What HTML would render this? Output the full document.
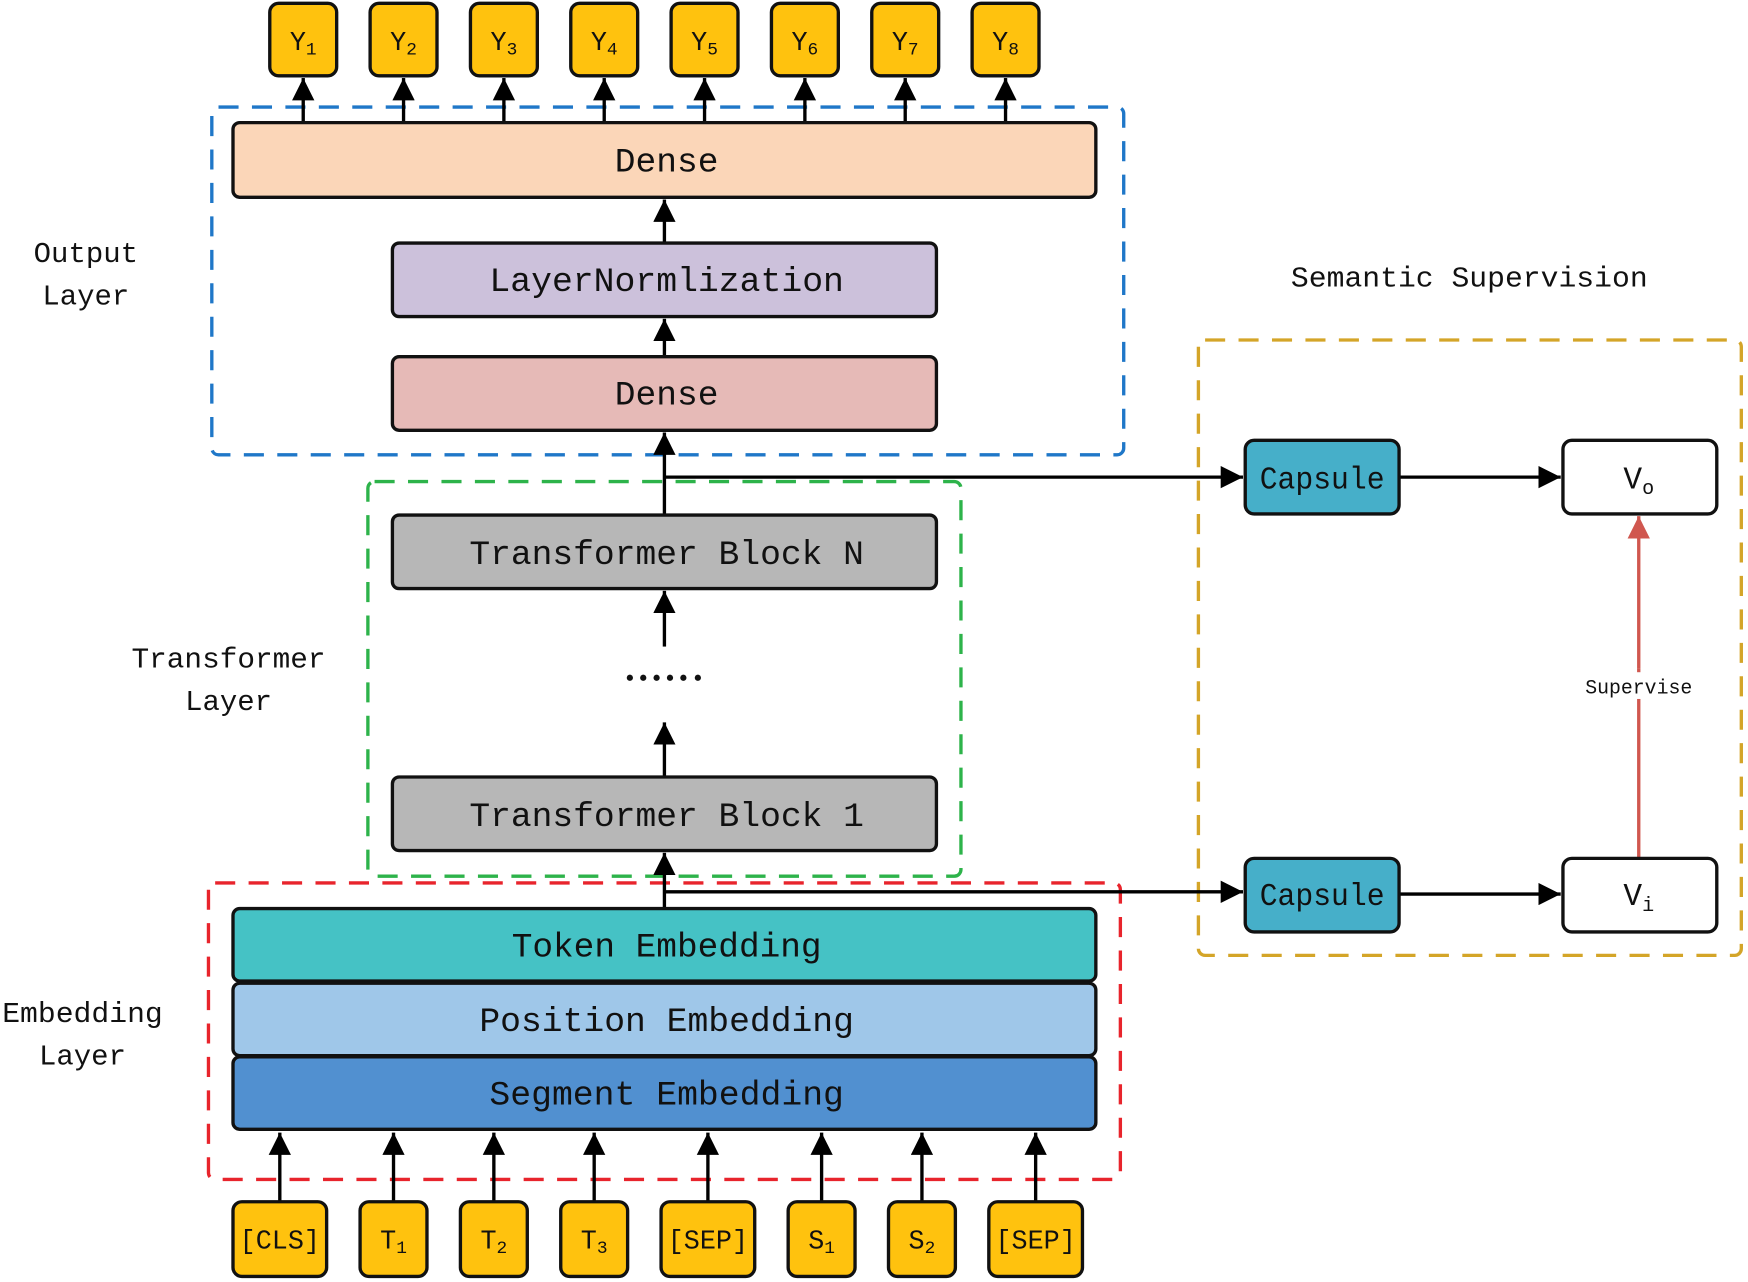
<!DOCTYPE html>
<html><head><meta charset="utf-8"><style>
html,body{margin:0;padding:0;background:#fff;}
svg{display:block;}
text{font-family:"Liberation Mono","Liberation Serif",monospace;fill:#111;}
</style></head><body>
<svg width="1748" height="1282" viewBox="0 0 1568 1150" preserveAspectRatio="none" xmlns="http://www.w3.org/2000/svg">
<defs>
<marker id="ab" viewBox="0 0 10 10" refX="10" refY="5" markerWidth="20" markerHeight="20" orient="auto" markerUnits="userSpaceOnUse"><path d="M0,0L10,5L0,10z" fill="#000"/></marker>
<marker id="ar" viewBox="0 0 10 10" refX="10" refY="5" markerWidth="20" markerHeight="20" orient="auto" markerUnits="userSpaceOnUse"><path d="M0,0L10,5L0,10z" fill="#d0574f"/></marker>
</defs>
<g fill="none" stroke-width="3" stroke-dasharray="18,12">
<rect x="190" y="96" width="818" height="312" rx="6" stroke="#1f77c8"/>
<rect x="330" y="432" width="532" height="354" rx="6" stroke="#2db34a"/>
<rect x="187" y="792" width="818" height="266" rx="6" stroke="#e8242c"/>
<rect x="1075" y="305" width="487" height="552" rx="6" stroke="#d4a528"/>
</g>
<g stroke="#000" stroke-width="3">
<line x1="272" y1="110" x2="272" y2="70" marker-end="url(#ab)"/>
<line x1="362" y1="110" x2="362" y2="70" marker-end="url(#ab)"/>
<line x1="452" y1="110" x2="452" y2="70" marker-end="url(#ab)"/>
<line x1="542" y1="110" x2="542" y2="70" marker-end="url(#ab)"/>
<line x1="632" y1="110" x2="632" y2="70" marker-end="url(#ab)"/>
<line x1="722" y1="110" x2="722" y2="70" marker-end="url(#ab)"/>
<line x1="812" y1="110" x2="812" y2="70" marker-end="url(#ab)"/>
<line x1="902" y1="110" x2="902" y2="70" marker-end="url(#ab)"/>
<line x1="596" y1="218" x2="596" y2="179" marker-end="url(#ab)"/>
<line x1="596" y1="320" x2="596" y2="286" marker-end="url(#ab)"/>
<line x1="596" y1="462" x2="596" y2="388" marker-end="url(#ab)"/>
<line x1="596" y1="580" x2="596" y2="530" marker-end="url(#ab)"/>
<line x1="596" y1="697" x2="596" y2="648" marker-end="url(#ab)"/>
<line x1="596" y1="815" x2="596" y2="765" marker-end="url(#ab)"/>
<line x1="596" y1="428" x2="1115" y2="428" marker-end="url(#ab)"/>
<line x1="596" y1="800" x2="1115" y2="800" marker-end="url(#ab)"/>
<line x1="1255" y1="428" x2="1400" y2="428" marker-end="url(#ab)"/>
<line x1="1255" y1="802" x2="1400" y2="802" marker-end="url(#ab)"/>
<line x1="251" y1="1078" x2="251" y2="1016" marker-end="url(#ab)"/>
<line x1="353" y1="1078" x2="353" y2="1016" marker-end="url(#ab)"/>
<line x1="443" y1="1078" x2="443" y2="1016" marker-end="url(#ab)"/>
<line x1="533" y1="1078" x2="533" y2="1016" marker-end="url(#ab)"/>
<line x1="635" y1="1078" x2="635" y2="1016" marker-end="url(#ab)"/>
<line x1="737" y1="1078" x2="737" y2="1016" marker-end="url(#ab)"/>
<line x1="827" y1="1078" x2="827" y2="1016" marker-end="url(#ab)"/>
<line x1="929" y1="1078" x2="929" y2="1016" marker-end="url(#ab)"/>
</g>
<line x1="1470" y1="600" x2="1470" y2="770" stroke="#d0574f" stroke-width="3"/>
<line x1="1470" y1="600" x2="1470" y2="463" stroke="#d0574f" stroke-width="3" marker-end="url(#ar)"/>
<g stroke="#111" stroke-width="3">
<g fill="#FFC20E">
<rect x="242" y="3" width="60" height="65" rx="8"/><rect x="332" y="3" width="60" height="65" rx="8"/>
<rect x="422" y="3" width="60" height="65" rx="8"/><rect x="512" y="3" width="60" height="65" rx="8"/>
<rect x="602" y="3" width="60" height="65" rx="8"/><rect x="692" y="3" width="60" height="65" rx="8"/>
<rect x="782" y="3" width="60" height="65" rx="8"/><rect x="872" y="3" width="60" height="65" rx="8"/>
<rect x="209" y="1078" width="84" height="67" rx="8"/><rect x="323" y="1078" width="60" height="67" rx="8"/>
<rect x="413" y="1078" width="60" height="67" rx="8"/><rect x="503" y="1078" width="60" height="67" rx="8"/>
<rect x="593" y="1078" width="84" height="67" rx="8"/><rect x="707" y="1078" width="60" height="67" rx="8"/>
<rect x="797" y="1078" width="60" height="67" rx="8"/><rect x="887" y="1078" width="84" height="67" rx="8"/>
</g>
<rect x="209" y="110" width="774" height="67" rx="6" fill="#FBD6B8"/>
<rect x="352" y="218" width="488" height="66" rx="6" fill="#CCC1DB"/>
<rect x="352" y="320" width="488" height="66" rx="6" fill="#E6BAB7"/>
<rect x="352" y="462" width="488" height="66" rx="6" fill="#B7B7B7"/>
<rect x="352" y="697" width="488" height="66" rx="6" fill="#B7B7B7"/>
<rect x="209" y="815" width="774" height="65" rx="6" fill="#45C2C5"/>
<rect x="209" y="882" width="774" height="65" rx="6" fill="#9FC7E9"/>
<rect x="209" y="948" width="774" height="65" rx="6" fill="#5190D0"/>
<rect x="1117" y="395" width="138" height="66" rx="8" fill="#46AFC9"/>
<rect x="1117" y="770" width="138" height="66" rx="8" fill="#46AFC9"/>
<rect x="1402" y="395" width="138" height="66" rx="8" fill="#fff"/>
<rect x="1402" y="770" width="138" height="66" rx="8" fill="#fff"/>
</g>
<g font-size="24" text-anchor="middle">
<text x="272" y="45">Y<tspan font-size="16" dy="4">1</tspan></text><text x="362" y="45">Y<tspan font-size="16" dy="4">2</tspan></text>
<text x="452" y="45">Y<tspan font-size="16" dy="4">3</tspan></text><text x="542" y="45">Y<tspan font-size="16" dy="4">4</tspan></text>
<text x="632" y="45">Y<tspan font-size="16" dy="4">5</tspan></text><text x="722" y="45">Y<tspan font-size="16" dy="4">6</tspan></text>
<text x="812" y="45">Y<tspan font-size="16" dy="4">7</tspan></text><text x="902" y="45">Y<tspan font-size="16" dy="4">8</tspan></text>
<text x="251" y="1120">[CLS]</text><text x="353" y="1120">T<tspan font-size="16" dy="4">1</tspan></text>
<text x="443" y="1120">T<tspan font-size="16" dy="4">2</tspan></text><text x="533" y="1120">T<tspan font-size="16" dy="4">3</tspan></text>
<text x="635" y="1120">[SEP]</text><text x="737" y="1120">S<tspan font-size="16" dy="4">1</tspan></text>
<text x="827" y="1120">S<tspan font-size="16" dy="4">2</tspan></text><text x="929" y="1120">[SEP]</text>
</g>
<g font-size="31" text-anchor="middle">
<text x="598" y="154">Dense</text>
<text x="598" y="261" textLength="318" lengthAdjust="spacingAndGlyphs">LayerNormlization</text>
<text x="598" y="363">Dense</text>
<text x="598" y="506" textLength="354" lengthAdjust="spacingAndGlyphs">Transformer Block N</text>
<text x="598" y="741" textLength="354" lengthAdjust="spacingAndGlyphs">Transformer Block 1</text>
<text x="598" y="858" textLength="278" lengthAdjust="spacingAndGlyphs">Token Embedding</text>
<text x="598" y="925" textLength="336" lengthAdjust="spacingAndGlyphs">Position Embedding</text>
<text x="598" y="991" textLength="318" lengthAdjust="spacingAndGlyphs">Segment Embedding</text>
<text x="1186" y="438" font-size="28" textLength="112" lengthAdjust="spacingAndGlyphs">Capsule</text>
<text x="1186" y="812" font-size="28" textLength="112" lengthAdjust="spacingAndGlyphs">Capsule</text>
<text x="1470" y="438" font-size="28">V<tspan font-size="18" dy="5">o</tspan></text>
<text x="1470" y="812" font-size="28">V<tspan font-size="18" dy="5">i</tspan></text>
</g>
<g fill="#111">
<circle cx="565" cy="608" r="2.8"/><circle cx="577" cy="608" r="2.8"/><circle cx="589" cy="608" r="2.8"/>
<circle cx="601" cy="608" r="2.8"/><circle cx="613" cy="608" r="2.8"/><circle cx="626" cy="608" r="2.8"/>
</g>
<g font-size="26" text-anchor="middle">
<text x="77" y="235">Output</text><text x="77" y="273">Layer</text>
<text x="205" y="599" textLength="174" lengthAdjust="spacingAndGlyphs">Transformer</text><text x="205" y="637">Layer</text>
<text x="74" y="917" textLength="144" lengthAdjust="spacingAndGlyphs">Embedding</text><text x="74" y="955">Layer</text>
<text x="1318" y="257" textLength="320" lengthAdjust="spacingAndGlyphs">Semantic Supervision</text>
</g>
<rect x="1420" y="603" width="100" height="24" fill="#fff"/>
<text x="1470" y="622" font-size="18" text-anchor="middle" textLength="96" lengthAdjust="spacingAndGlyphs">Supervise</text>
</svg>
</body></html>
